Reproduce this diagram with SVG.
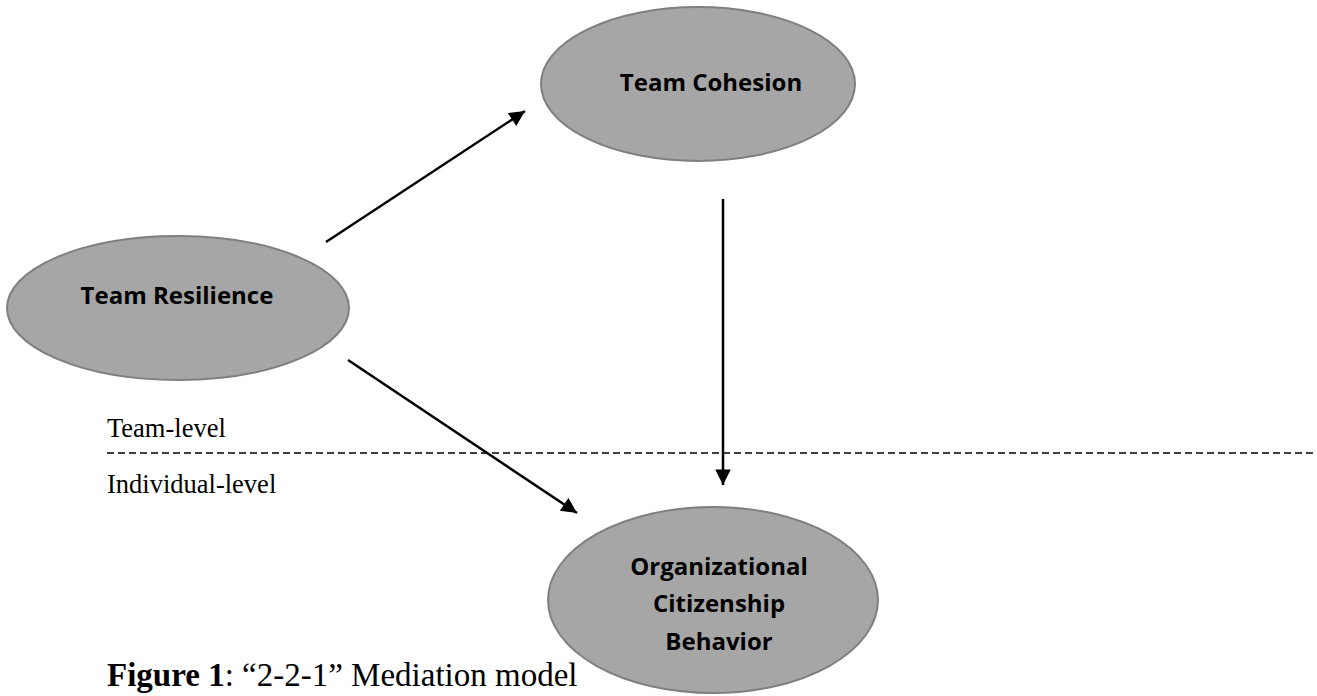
<svg xmlns="http://www.w3.org/2000/svg" width="1317" height="696" viewBox="0 0 1317 696">
<style>
.node ellipse{fill:#a6a6a6;stroke:#7f7f7f;stroke-width:2}
.lbl{font-family:"Open Sans","Liberation Sans",sans-serif;font-weight:bold;font-size:24px;fill:#000;text-anchor:middle}
.serif{font-family:"Liberation Serif","Times New Roman",serif;font-size:26.5px;fill:#000}
.caption{font-size:33px}
.conn line{stroke:#000;stroke-width:2.5;marker-end:url(#ah)}
</style>
<defs>
<marker id="ah" viewBox="0 0 10 10" refX="10" refY="5" markerWidth="6.8" markerHeight="6.2" markerUnits="strokeWidth" orient="auto">
<path d="M0,0 L10,5 L0,10 z" fill="#000"/>
</marker>
</defs>
<rect width="1317" height="696" fill="#fff"/>
<line x1="107" y1="453" x2="1317" y2="453" stroke="#000" stroke-width="1.5" stroke-dasharray="7 4"/>
<g id="team-cohesion" class="node">
<ellipse cx="698" cy="84" rx="157" ry="77"/>
<text class="lbl" x="711" y="91">Team Cohesion</text>
</g>
<g id="team-resilience" class="node">
<ellipse cx="178" cy="308" rx="171" ry="72"/>
<text class="lbl" x="177" y="304">Team Resilience</text>
</g>
<g id="ocb" class="node">
<ellipse cx="713" cy="600" rx="165" ry="93"/>
<text class="lbl" x="719" y="575">Organizational</text>
<text class="lbl" x="719" y="612">Citizenship</text>
<text class="lbl" x="719" y="650">Behavior</text>
</g>
<g id="connectors" class="conn">
<line x1="326" y1="242" x2="525" y2="111"/>
<line x1="348" y1="360" x2="577" y2="513"/>
<line x1="723" y1="199" x2="723" y2="485"/>
</g>
<text class="serif" x="107" y="437">Team-level</text>
<text class="serif" x="107" y="493">Individual-level</text>
<text class="serif caption" x="107" y="686"><tspan font-weight="bold">Figure 1</tspan>: “2-2-1” Mediation model</text>
</svg>
